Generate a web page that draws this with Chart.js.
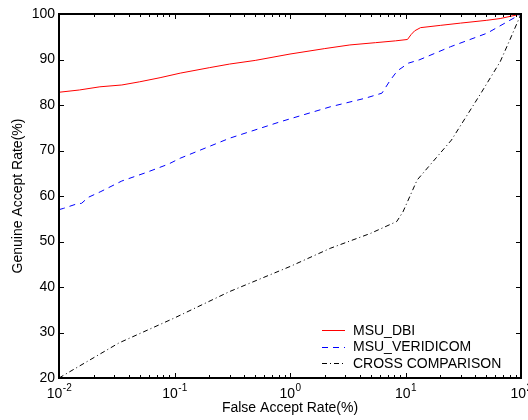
<!DOCTYPE html>
<html>
<head>
<meta charset="utf-8">
<script src="https://cdn.jsdelivr.net/npm/chart.js@4.4.0/dist/chart.umd.min.js"></script>
<style>
  html, body { margin: 0; padding: 0; background: #fff; }
</style>
</head>
<body>
<canvas id="roc" width="528" height="420"></canvas>
<script>
// ROC data (false accept rate %, genuine accept rate %)
const dbiFar = [0.01, 0.015, 0.0226, 0.035, 0.05, 0.075, 0.112, 0.2, 0.3, 0.5, 1.0, 2.0, 3.3, 5.5, 8.2, 10.4, 11.2, 12, 13.5, 20, 30, 50, 66, 100];
const dbiGar = [82.8, 83.3, 84.0, 84.4, 85.1, 86.0, 87.0, 88.2, 89.0, 89.8, 91.2, 92.4, 93.2, 93.7, 94.1, 94.4, 95.5, 96.3, 97.0, 97.5, 98.0, 98.6, 99.0, 100];

const veriFar = [0.01, 0.011, 0.014, 0.0157, 0.0179, 0.0227, 0.035, 0.056, 0.0885, 0.112, 0.3, 0.82, 2.23, 4.5, 6.25, 7.4, 8.5, 10.6, 13.1, 24.5, 51, 100];
const veriGar = [57.0, 57.3, 58.2, 58.4, 59.7, 60.9, 63.3, 65.1, 67.0, 68.3, 72.7, 76.3, 79.6, 81.5, 82.6, 85.5, 87.5, 89.2, 89.9, 92.8, 95.8, 100];

const crossFar = [0.01, 0.033, 0.1, 0.3, 1, 2.23, 5, 8.4, 9.5, 12.6, 25, 45, 66, 80, 100];
const crossGar = [20, 27.7, 33.2, 39.0, 44.5, 48.5, 51.8, 54.4, 56.5, 63.5, 72.3, 82.6, 89.5, 94.3, 100];

const seriesNames = ['MSU_DBI', 'MSU_VERIDICOM', 'CROSS COMPARISON'];
const xTickValues = [0.01, 0.1, 1, 10, 100];
const xTickExps = ['-2', '-1', '0', '1', '2'];
const yTickValues = [20, 30, 40, 50, 60, 70, 80, 90, 100];

const FONT = '"Liberation Sans", Arial, Helvetica, sans-serif';

function pts(xs, ys) {
  return xs.map((v, i) => ({ x: v, y: ys[i] }));
}

// box, inward ticks, x labels with exponents, legend inside the axes
const matlabAxes = {
  id: 'matlabAxes',
  afterDraw(chart) {
    const { ctx, chartArea: a, scales: { x, y } } = chart;
    ctx.save();
    ctx.strokeStyle = '#000';
    ctx.lineWidth = 2;
    ctx.strokeRect(Math.round(a.left), Math.round(a.top),
      Math.round(a.right - a.left), Math.round(a.bottom - a.top));

    ctx.lineWidth = 1;
    ctx.beginPath();
    // y ticks left + right
    yTickValues.forEach(v => {
      const py = Math.round(y.getPixelForValue(v)) + 0.5;
      ctx.moveTo(a.left, py); ctx.lineTo(a.left + 5, py);
      ctx.moveTo(a.right, py); ctx.lineTo(a.right - 5, py);
    });
    // x major + minor ticks, bottom + top
    for (let d = -2; d <= 2; d++) {
      for (let m = 1; m <= 9; m++) {
        const v = m * Math.pow(10, d);
        if (v > 100) break;
        const px = Math.round(x.getPixelForValue(v)) + 0.5;
        const len = m === 1 ? 5 : 3;
        ctx.moveTo(px, a.bottom); ctx.lineTo(px, a.bottom - len);
        ctx.moveTo(px, a.top); ctx.lineTo(px, a.top + len);
      }
    }
    ctx.stroke();

    // x tick labels: 10 with superscript exponent
    ctx.fillStyle = '#000';
    ctx.textBaseline = 'alphabetic';
    ctx.textAlign = 'left';
    xTickValues.forEach((v, i) => {
      const px = x.getPixelForValue(v);
      ctx.font = '14px ' + FONT;
      const wBase = ctx.measureText('10').width;
      ctx.font = '10px ' + FONT;
      const wExp = ctx.measureText(xTickExps[i]).width;
      const start = px - (wBase + wExp) / 2;
      ctx.font = '14px ' + FONT;
      ctx.fillText('10', start, a.bottom + 20);
      ctx.font = '10px ' + FONT;
      ctx.fillText(xTickExps[i], start + wBase + 0.5, a.bottom + 13);
    });

    // legend
    ctx.font = '14px ' + FONT;
    ctx.textBaseline = 'middle';
    chart.data.datasets.forEach((ds, i) => {
      const ly = a.bottom - 48 + i * 16.5;
      ctx.save();
      ctx.strokeStyle = ds.borderColor;
      ctx.lineWidth = 1;
      ctx.setLineDash(ds.borderDash || []);
      ctx.beginPath();
      ctx.moveTo(a.right - 199, Math.round(ly) + 0.5);
      ctx.lineTo(a.right - 176, Math.round(ly) + 0.5);
      ctx.stroke();
      ctx.restore();
      ctx.fillText(ds.label, a.right - 168, ly + 1);
    });
    ctx.restore();
  }
};

new Chart(document.getElementById('roc'), {
  type: 'line',
  data: {
    datasets: [
      { label: seriesNames[0], data: pts(dbiFar, dbiGar), borderColor: '#ff0000', borderWidth: 1, pointRadius: 0, fill: false },
      { label: seriesNames[1], data: pts(veriFar, veriGar), borderColor: '#0000ff', borderWidth: 1, borderDash: [6, 5], pointRadius: 0, fill: false },
      { label: seriesNames[2], data: pts(crossFar, crossGar), borderColor: '#000000', borderWidth: 1, borderDash: [5, 3, 1, 3], pointRadius: 0, fill: false }
    ]
  },
  options: {
    responsive: false,
    animation: false,
    layout: { padding: { left: 0, right: 7, top: 14, bottom: 0 } },
    plugins: { legend: { display: false }, tooltip: { enabled: false } },
    scales: {
      x: {
        type: 'logarithmic',
        min: 0.01,
        max: 100,
        grid: { display: false },
        border: { display: false },
        ticks: { display: false },
        title: { display: true, text: 'False Accept Rate(%)', color: '#000', font: { family: FONT, size: 14 }, padding: { top: 0, bottom: 3 } },
        afterFit(s) { s.height = 42; }
      },
      y: {
        min: 20,
        max: 100,
        grid: { display: false, drawTicks: false },
        border: { display: false },
        afterBuildTicks(s) { s.ticks = yTickValues.map(v => ({ value: v })); },
        ticks: { color: '#000', padding: 4, font: { family: FONT, size: 14 } },
        title: { display: true, text: 'Genuine Accept Rate(%)', color: '#000', font: { family: FONT, size: 14 }, padding: { top: 10, bottom: 0 } },
        afterFit(s) { s.width = 59; }
      }
    }
  },
  plugins: [matlabAxes]
});
</script>
</body>
</html>
